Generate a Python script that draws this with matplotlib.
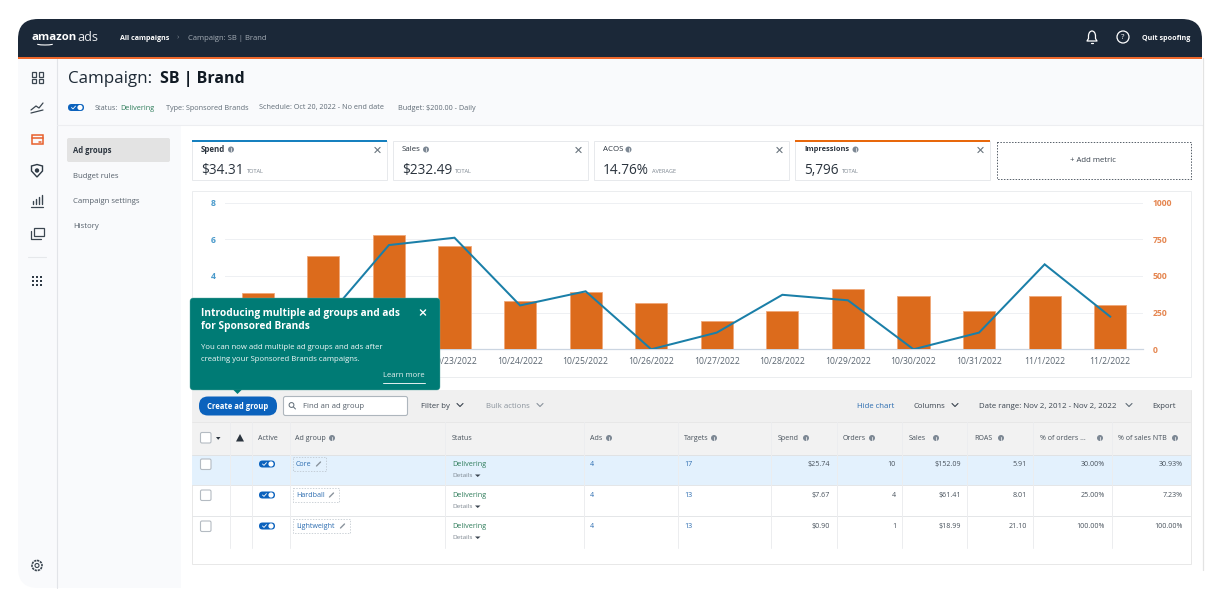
import matplotlib
matplotlib.use("Agg")
import matplotlib.pyplot as plt
from matplotlib import font_manager as fm
from matplotlib.patches import FancyBboxPatch, Rectangle, Circle, Polygon, Arc

# use the first family that really ships a separate bold face
FONT = "DejaVu Sans"
for fam in ["Open Sans", "Noto Sans", "Roboto", "Lato", "Liberation Sans"]:
    if any(f.name == fam and f.weight in (700, "bold") for f in fm.fontManager.ttflist):
        FONT = fam
        break
plt.rcParams['font.family'] = [FONT, 'DejaVu Sans']

# ---------- chart data ----------
dates = ["10/20/2022", "10/21/2022", "10/22/2022", "10/23/2022", "10/24/2022", "10/25/2022", "10/26/2022",
         "10/27/2022", "10/28/2022", "10/29/2022", "10/30/2022", "10/31/2022", "11/1/2022", "11/2/2022"]
impressions = [385, 633, 782, 703, 329, 388, 315, 195, 261, 413, 360, 261, 363, 304]
spend = [1.6, 1.5, 5.68, 6.08, 2.39, 3.16, 0, 0.91, 2.97, 2.67, 0, 0.91, 4.63, 1.78]
left_ticks = [0, 2, 4, 6, 8]
left_labels = ["", "", "4", "6", "8"]
right_ticks = [0, 250, 500, 750, 1000]
right_labels = ["0", "250", "500", "750", "1000"]
shown_dates = ["", "", ""] + dates[3:]

# ---------- metric cards ----------
metric_names = ["Spend", "Sales", "ACOS", "Impressions"]
metric_values = ["$34.31", "$232.49", "14.76%", "5,796"]
metric_notes = ["TOTAL", "TOTAL", "AVERAGE", "TOTAL"]

# ---------- table ----------
ad_groups = ["Core", "Hardball", "Lightweight"]
row_status = ["Delivering", "Delivering", "Delivering"]
row_ads = ["4", "4", "4"]
row_targets = ["17", "13", "13"]
row_spend = ["$25.74", "$7.67", "$0.90"]
row_orders = ["10", "4", "1"]
row_sales = ["$152.09", "$61.41", "$18.99"]
row_roas = ["5.91", "8.01", "21.10"]
row_orders_ntb = ["30.00%", "25.00%", "100.00%"]
row_sales_ntb = ["30.93%", "7.23%", "100.00%"]

W, H = 1216, 600
fig = plt.figure(figsize=(W / 100, H / 100), dpi=100, facecolor="white")


def layer(z):
    a = fig.add_axes([0, 0, 1, 1], zorder=z)
    a.set_xlim(0, W)
    a.set_ylim(H, 0)
    a.axis("off")
    a.patch.set_alpha(0)
    return a


ui = layer(0)
top = layer(5)
NAVY = "#1B2838"
BLUE = "#0B62BD"
LINK = "#2B6CB0"
GREY = "#5F6B76"
TXT = "#39434E"
GREEN = "#2F7D5B"
PANEL = "#F9FAFC"


def T(x, y, s, px=8, color=TXT, ha="left", weight="normal", a=None, z=5):
    (a or ui).text(x, y + 1.2, s, fontsize=px * 0.72, color=color, ha=ha, va="center", fontweight=weight, zorder=z)


def R(x0, y0, x1, y1, fc="none", ec="none", lw=0.7, r=0, a=None, ls="-", z=1):
    a = a or ui
    if r:
        p = FancyBboxPatch((x0, y0), x1 - x0, y1 - y0, boxstyle=f"round,pad=0,rounding_size={r}",
                           fc=fc, ec=ec, lw=lw, ls=ls, zorder=z)
    else:
        p = Rectangle((x0, y0), x1 - x0, y1 - y0, fc=fc, ec=ec, lw=lw, ls=ls, zorder=z)
    a.add_patch(p)


def L(xs, ys, c=TXT, lw=0.8, a=None, z=3, **kw):
    (a or ui).plot(xs, ys, color=c, lw=lw, zorder=z, solid_capstyle="round", **kw)


def info(x, y, r=3):
    ui.add_patch(Circle((x, y), r, fc="#7D8894", ec="none", zorder=4))
    ui.plot([x, x], [y - 1.2, y + 1.6], color="white", lw=0.5, zorder=5)


def cross(x, y, d=3, c="#6A747E", a=None, lw=0.8):
    L([x - d, x + d], [y - d, y + d], c, lw, a, z=8)
    L([x - d, x + d], [y + d, y - d], c, lw, a, z=8)


def chevron(x, y, c=GREY, d=3):
    L([x - d, x, x + d], [y - 1.5, y + 1.5, y - 1.5], c, 0.8, z=6)


def toggle(x, y):
    R(x, y - 3.5, x + 16, y + 3.5, fc=BLUE, r=3.5, z=4)
    ui.add_patch(Circle((x + 12, y), 2.6, fc="white", ec="none", zorder=5))
    L([x + 3.5, x + 5, x + 7.5], [y, y + 1.4, y - 1.4], "white", 0.6, z=6)


def checkbox(x, y):
    R(x, y, x + 10.5, y + 10.5, fc="white", ec="#B4BBC2", lw=0.8, r=1.5, z=4)


# ---------- shell ----------
R(18, 19, 1202, 110, fc=NAVY, r=20, z=1)
R(18, 57, 1202, 58.5, fc="#F0692C", z=2)
R(18, 58.5, 1202, 300, fc=PANEL, z=1.5)
R(18, 200, 220, 588, fc=PANEL, r=20, z=1.5)
R(181, 125, 1202, 588, fc="white", z=2)
L([56.5, 56.5], [58.5, 588], "#E2E4E8", 0.8)
L([57, 1202], [124.5, 124.5], "#EDEEF1", 0.8)
L([1203, 1203], [58, 570], "#E3E3E3", 0.9)

# header text
T(31, 36, "amazon", 11.4, "white", weight="bold")
T(77.5, 36, "ads", 12.6, "#E8EAED")
ui.add_patch(Arc((45, 41.5), 26, 7, theta1=20, theta2=160, color="white", lw=0.8, zorder=5))
T(120, 37, "All campaigns", 7.2, "white", weight="bold")
T(177, 37, "›", 8, "#77818C")
T(188, 37, "Campaign: SB | Brand", 7.6, "#A5ADB6")
T(1142, 37, "Quit spoofing", 7.2, "white", weight="bold")
ui.add_patch(Arc((1092, 36), 7, 10, theta1=180, theta2=360, color="white", lw=0.9, zorder=5))
L([1088.5, 1088.5, 1087, 1097, 1095.5, 1095.5], [36, 38.5, 41, 41, 38.5, 36], "white", 0.9, z=5)
L([1091, 1093], [43, 43], "white", 0.9, z=5)
ui.add_patch(Circle((1123, 37), 6, fc="none", ec="white", lw=0.9, zorder=5))
T(1123, 36, "?", 8, "white", ha="center", z=6)

# sidebar icons
for (xa, ya, xb, yb) in [(31.5, 72, 36, 76.5), (38.5, 72, 43, 76.5), (31.5, 78.5, 36, 83), (38.5, 78.5, 43, 83)]:
    R(xa, ya, xb, yb, ec="#3B4650", lw=0.9, z=4)
L([31, 36, 39, 43], [110, 106, 108, 103], "#3B4650", 0.9)
L([31, 43], [113, 110], "#3B4650", 0.9)
R(31.5, 134.5, 43, 144, ec="#E8602C", lw=1.1, z=4)
L([31.5, 43], [137.5, 137.5], "#E8602C", 1.1)
L([39, 41], [141.5, 141.5], "#E8602C", 1.1)
ui.add_patch(Polygon([(31.5, 166), (37, 164.5), (42.5, 166), (42.5, 171), (37, 177), (31.5, 171)], fc="none",
                     ec="#2F3A45", lw=1.0, zorder=4))
ui.add_patch(Circle((37, 170.5), 2.2, fc="#2F3A45", ec="none", zorder=4))
for x, h in zip([33, 36, 39, 42], [3, 5, 7, 9]):
    L([x, x], [204, 204 - h], "#3B4650", 1.0)
L([31, 43], [206.5, 206.5], "#3B4650", 0.9)
R(34, 228, 43.5, 236, ec="#3B4650", lw=0.9, z=4)
L([31, 31, 41], [231, 238.5, 238.5], "#3B4650", 0.9)
L([28, 46], [256.5, 256.5], "#E6E8EB", 0.8)
for yy in (277, 281, 285):
    for xx in (33, 37, 41):
        R(xx - 1.3, yy - 1.3, xx + 1.3, yy + 1.3, fc="#2F3A45", z=4)
ui.add_patch(Circle((37, 565.5), 5, fc="none", ec="#3B4650", lw=1.2, ls=(0, (1.4, 0.5)), zorder=4))
ui.add_patch(Circle((37, 565.5), 2, fc="none", ec="#3B4650", lw=0.8, zorder=4))

# title area
T(68, 77.5, "Campaign:", 17, "#1E2A36")
T(159.5, 77.5, "SB | Brand", 16, "#111A24", weight="bold")
toggle(68, 107.5)
for x, s, c in [(95, "Status:", GREY), (120.5, "Delivering", GREEN), (166, "Type: Sponsored Brands", GREY),
                (259, "Schedule: Oct 20, 2022 - No end date", GREY), (398, "Budget: $200.00 - Daily", GREY)]:
    T(x, 106.8, s, 7.3, c)

# left nav
R(67, 138, 170, 162, fc="#E3E3E3", r=2, z=3)
T(73, 149.5, "Ad groups", 7.6, "#2B343E", weight="bold")
for y, s in zip((175, 200, 225), ("Budget rules", "Campaign settings", "History")):
    T(73, y, s, 7.8, "#56606B")

# metric cards
card_x = [192, 393, 594, 795]
note_x = [246, 454, 652, 841]
info_x = [231, 426, 628.5, 855.5]
label_px = [7.9, 7.9, 7.9, 7.4]
card_col = ["#1680BF", None, None, "#E8680C"]
for x, nm, v, nt, nx, ix, lp, cc in zip(card_x, metric_names, metric_values, metric_notes, note_x, info_x, label_px,
                                        card_col):
    R(x, 141, x + 195, 179.5, fc="white", ec="#E7E9EC", lw=0.7, z=3)
    if cc:
        R(x, 139.5, x + 195, 141.5, fc=cc, z=4)
    T(x + 9, 148, nm, lp, "#2B343E", weight="bold" if cc else "normal")
    info(ix, 149.5)
    T(x + 9, 169, v, 13.6, "#2B343E")
    T(nx, 170, nt, 5.6, "#79838D")
    cross(x + 185.5, 150, 2.6)
R(996.5, 142, 1190.5, 178.5, ec="#555E68", lw=0.7, ls=(0, (1.5, 1.5)), z=3)
T(1093, 159, "+ Add metric", 7.8, "#39434E", ha="center")

# chart card
R(192, 190.5, 1190.5, 377, fc="white", ec="#EBEDEF", lw=0.7, z=3)

# table card
R(192, 390, 1190.5, 564, fc="white", ec="#E8E8E8", lw=0.7, z=3)
R(192, 390, 1190.5, 422, fc="#F0F0F0", z=3)
R(192, 422, 1190.5, 454.5, fc="#F2F2F2", z=3)
R(192, 454.5, 1190.5, 485, fc="#E3F1FD", z=3)
L([192, 1190], [422, 422], "#E6E6E6", 0.6)
L([192, 1190], [454.5, 454.5], "#E0E0E0", 0.6)
L([192, 1190], [485, 485], "#E4E6E8", 0.7)
L([192, 1190], [516, 516], "#E4E6E8", 0.7)
for x in [229.5, 251.7, 289.5, 445, 583.5, 677.7, 770.7, 837, 902, 967, 1033, 1111.6]:
    L([x, x], [422, 548], "#ECEDEF", 0.7)

# toolbar
R(199, 396.5, 277, 415.5, fc=BLUE, r=9, z=4)
T(238, 405, "Create ad group", 7.6, "white", ha="center", weight="bold")
R(283.5, 396.5, 407.5, 415.5, fc="white", ec="#AEB6BD", lw=0.8, r=2, z=4)
ui.add_patch(Circle((291.5, 405), 2.4, fc="none", ec="#5F6B76", lw=0.7, zorder=5))
L([293.5, 295.5], [407, 409], "#5F6B76", 0.7, z=5)
T(303, 405, "Find an ad group", 7.8, "#56606B")
T(421, 405, "Filter by", 7.8, "#39434E")
chevron(460, 405, "#39434E")
T(486, 405, "Bulk actions", 7.8, "#8A939C")
chevron(540, 405, "#8A939C")
T(857, 405, "Hide chart", 7.8, LINK)
T(914, 405, "Columns", 7.8, "#39434E")
chevron(955, 405, "#39434E")
T(979, 405, "Date range: Nov 2, 2012 - Nov 2, 2022", 7.9, "#39434E")
chevron(1129, 405, "#5F6B76")
T(1152, 405, "Export", 7.8, "#39434E")

# table header
checkbox(200.5, 432.5)
ui.add_patch(Polygon([(216, 437), (220.5, 437), (218.2, 439.8)], fc="#2B343E", ec="none", zorder=5))
ui.add_patch(Polygon([(240, 434), (244, 441.5), (236, 441.5)], fc="#2B343E", ec="none", zorder=5))
heads = [(258, "Active", None), (295, "Ad group", 332), (452, "Status", None), (590, "Ads", 609), (684, "Targets", 714),
         (778, "Spend", 806), (843, "Orders", 872), (909, "Sales", 936), (974, "ROAS", 1001),
         (1040, "% of orders ...", 1100), (1118, "% of sales NTB", 1175)]
for x, s, ix in heads:
    T(x, 437, s, 7.2, "#47515B")
    if ix:
        info(ix, 438)

# table rows
ys = [464, 495, 526]
box_r = [326, 339, 350]
for i, y in enumerate(ys):
    checkbox(200.5, y - 5)
    toggle(259, y)
    R(293, y - 7, box_r[i], y + 6.5, ec="#B8C0C8", lw=0.5, ls=(0, (2, 2)), z=4)
    T(296, y - 0.6, ad_groups[i], 7.2, LINK)
    L([box_r[i] - 9.5, box_r[i] - 5.5], [y + 2, y - 2], "#8A939C", 1.0, z=5)
    T(452, y - 0.6, row_status[i], 7.3, GREEN)
    T(452, y + 10.5, "Details", 6.4, "#7A848E")
    ui.add_patch(Polygon([(475, y + 10.5), (480.5, y + 10.5), (477.7, y + 13)], fc="#39434E", ec="none", zorder=5))
    T(590, y - 0.6, row_ads[i], 7.2, LINK)
    T(684, y - 0.6, row_targets[i], 7.2, LINK)
    for xr, col in zip([830, 896, 961, 1027, 1105, 1183],
                       [row_spend, row_orders, row_sales, row_roas, row_orders_ntb, row_sales_ntb]):
        T(xr, y - 0.6, col[i], 7.2, "#47515B", ha="right")

# ---------- chart ----------
x0, x1, y_top, y_bot = 225, 1143, 202.5, 349.3
ax = fig.add_axes([x0 / W, 1 - y_bot / H, (x1 - x0) / W, (y_bot - y_top) / H], zorder=2)
ax.patch.set_alpha(0)
pos = list(range(len(dates)))
ax.bar(pos, impressions, width=0.49, color="#DC6B1C", edgecolor="#F0A878", linewidth=0.6, zorder=3)
ax.set_xlim(-0.5, 13.5)
ax.set_ylim(0, 1000)
ax.set_xticks(pos)
ax.set_xticklabels(shown_dates, fontsize=6.2, color="#5A6570")
ax.tick_params(axis="x", length=0, pad=5.5)
ax.grid(axis="y", color="#EEF0F3", lw=0.7, zorder=0)
ax.set_axisbelow(True)

ax2 = ax.twinx()
ax2.set_zorder(3)
ax2.patch.set_alpha(0)
ax2.plot(pos, spend, color="#1A7FA8", lw=1.45, zorder=4, solid_joinstyle="miter")
ax2.set_ylim(0, 8)

# the bars' scale reads on the right, the line's on the left
ax.yaxis.tick_right()
ax.set_yticks(right_ticks)
ax.set_yticklabels(right_labels, fontsize=6.2, color="#E58650", fontweight="bold")
ax.tick_params(axis="y", length=0, pad=7)
ax2.yaxis.tick_left()
ax2.set_yticks(left_ticks)
ax2.set_yticklabels(left_labels, fontsize=6.2, color="#4A9ACB", fontweight="bold")
ax2.tick_params(axis="y", length=0, pad=6.5)
for s in ("top", "left", "right"):
    ax.spines[s].set_visible(False)
ax.spines["bottom"].set_color("#CBD5E1")
ax.spines["bottom"].set_linewidth(0.9)
for s in ax2.spines.values():
    s.set_visible(False)

# ---------- popup ----------
TEAL = "#007B75"
R(190, 298, 440, 390, fc=TEAL, ec="#5FA9A5", lw=0.3, r=3, a=top, z=6)
top.add_patch(Polygon([(233, 389.5), (242, 389.5), (237.5, 394)], fc=TEAL, ec="none", zorder=6))
T(201, 312, "Introducing multiple ad groups and ads", 10.1, "white", weight="bold", a=top, z=8)
T(201, 325, "for Sponsored Brands", 10.1, "white", weight="bold", a=top, z=8)
T(201, 346, "You can now add multiple ad groups and ads after", 7.8, "#F2F8F8", a=top, z=8)
T(201, 358.5, "creating your Sponsored Brands campaigns.", 7.8, "#F2F8F8", a=top, z=8)
T(425, 374.5, "Learn more", 7.8, "#E4F0EF", ha="right", a=top, z=8)
L([383, 425], [382.5, 382.5], "#E4F0EF", 0.7, a=top, z=8)
cross(423, 312.5, 2.6, "white", top, 1.0)

fig.savefig("out.png", dpi=100, facecolor="white")
